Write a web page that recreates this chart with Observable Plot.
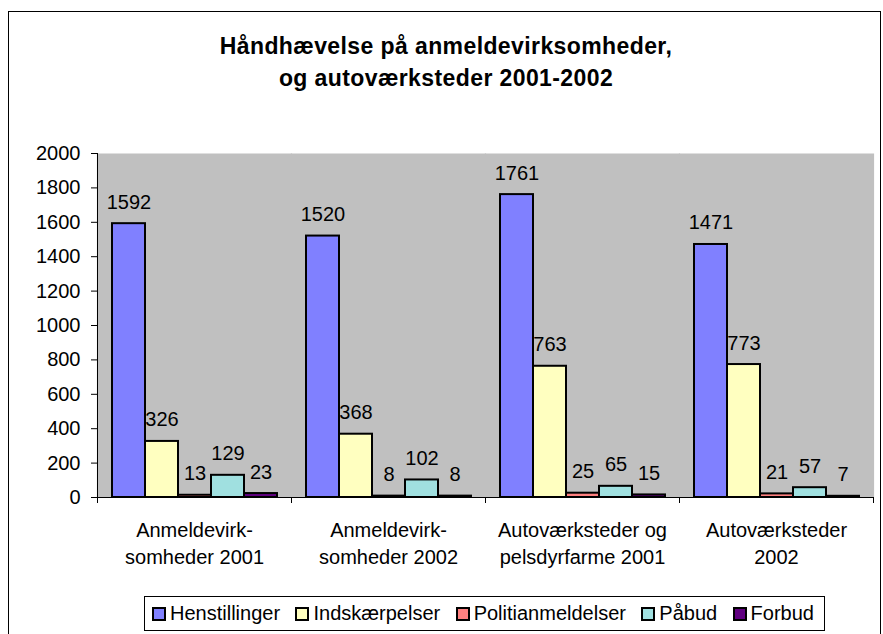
<!DOCTYPE html>
<html>
<head>
<meta charset="utf-8">
<script src="https://cdn.jsdelivr.net/npm/d3@7"></script>
<script src="https://cdn.jsdelivr.net/npm/@observablehq/plot@0.6"></script>
<style>
  body { margin: 0; background: #fff; font-family: "Liberation Sans", Arial, sans-serif; }
  #wrap { position: relative; width: 883px; height: 634px; overflow: hidden; }
  #border { position: absolute; left: 8px; top: 11px; width: 873px; height: 700px; border: 1px solid #000; box-sizing: border-box; }
  #title { position: absolute; left: 0; top: 30px; width: 892px; text-align: center; font-weight: bold; font-size: 23px; line-height: 32px; color: #000; letter-spacing: 0.4px; }
  #chart { position: absolute; left: 0; top: 0; }
  #legend { position: absolute; left: 144px; top: 596px; width: 681px; height: 35px; border: 1px solid #000; box-sizing: border-box; background: #fff; display: flex; align-items: center; justify-content: space-between; padding: 0 10px 0 7px; font-size: 20px; }
  .item { display: flex; align-items: center; }
  .sw { width: 14px; height: 14px; border: 2px solid #000; box-sizing: border-box; margin-right: 4px; }
</style>
</head>
<body>
<div id="wrap">
  <div id="border"></div>
  <div id="chart"></div>
  <div id="title">Håndhævelse på anmeldevirksomheder,<br>og autoværksteder 2001-2002</div>
  <div id="legend"></div>
</div>
<script>
// ---- data ----
const groups = ["Anmeldevirksomheder 2001", "Anmeldevirksomheder 2002", "Autoværksteder og pelsdyrfarme 2001", "Autoværksteder 2002"];
const groupLabels = ["Anmeldevirk-\nsomheder 2001", "Anmeldevirk-\nsomheder 2002", "Autoværksteder og\npelsdyrfarme 2001", "Autoværksteder\n2002"];
const series = ["Henstillinger", "Indskærpelser", "Politianmeldelser", "Påbud", "Forbud"];
const henstillinger = [1592, 1520, 1761, 1471];
const indskaerpelser = [326, 368, 763, 773];
const politianmeldelser = [13, 8, 25, 21];
const paabud = [129, 102, 65, 57];
const forbud = [23, 8, 15, 7];
const yTicks = [0, 200, 400, 600, 800, 1000, 1200, 1400, 1600, 1800, 2000];
const colors = ["#8080FF", "#FFFFC0", "#FF8080", "#A0E0E0", "#600080"];

const valuesBySeries = [henstillinger, indskaerpelser, politianmeldelser, paabud, forbud];
const rows = [];
groups.forEach((g, gi) => series.forEach((s, si) => rows.push({group: g, series: s, value: valuesBySeries[si][gi]})));
const labelRows = groups.map((g, i) => ({group: g, label: groupLabels[i]}));

const W = 883, H = 600;
const plot = Plot.plot({
  width: W, height: H,
  marginTop: 153, marginBottom: H - 497, marginLeft: 96, marginRight: 9,
  style: {fontFamily: '"Liberation Sans", Arial, sans-serif', fontSize: "20px", color: "#000", background: "transparent", overflow: "visible"},
  fx: {domain: groups, padding: 0, axis: null, label: null},
  x: {domain: series, paddingInner: 0, paddingOuter: 0.37, axis: null},
  y: {domain: [0, 2000], axis: null},
  color: {domain: series, range: colors},
  marks: [
    Plot.frame({fill: "#C0C0C0", stroke: null, insetLeft: -0.6, insetRight: -0.6}),
    Plot.axisY(yTicks, {tickSize: 6, tickPadding: 11, label: null, fontSize: 20, stroke: "#000", tickFormat: d => String(d)}),
    Plot.barY(rows, {fx: "group", x: "series", y: "value", fill: "series", stroke: "#000", strokeWidth: 2}),
    Plot.ruleY([0], {stroke: "#000", strokeWidth: 1}),
    Plot.text(rows, {fx: "group", x: "series", y: "value", text: d => String(d.value), lineAnchor: "bottom", dy: -15, fontSize: 20, fill: "#000"}),
    Plot.text(labelRows, {fx: "group", text: "label", frameAnchor: "bottom", lineAnchor: "top", dy: 20, lineHeight: 1.35, fontSize: 20, fill: "#000"})
  ]
});
document.getElementById("chart").appendChild(plot);

// axis line and category boundary ticks, positioned with the plot's own scales
const fx = plot.scale("fx"), y = plot.scale("y");
const svg = d3.select(plot);
const y0 = y.apply(0), y1 = y.apply(2000);
const xs = groups.map(g => fx.apply(g));
xs.push(fx.apply(groups[groups.length - 1]) + fx.bandwidth);
const g = svg.append("g").attr("stroke", "#000").attr("stroke-width", 1);
g.append("line").attr("x1", xs[0] + 0.5).attr("x2", xs[0] + 0.5).attr("y1", y1).attr("y2", y0);
xs.forEach(x => g.append("line").attr("x1", x + 0.5).attr("x2", x + 0.5).attr("y1", y0).attr("y2", y0 + 6));

// legend
const legend = document.getElementById("legend");
series.forEach((s, i) => {
  const it = document.createElement("div"); it.className = "item";
  const sw = document.createElement("div"); sw.className = "sw"; sw.style.background = colors[i];
  const tx = document.createElement("span"); tx.textContent = s;
  it.appendChild(sw); it.appendChild(tx); legend.appendChild(it);
});
</script>
</body>
</html>
